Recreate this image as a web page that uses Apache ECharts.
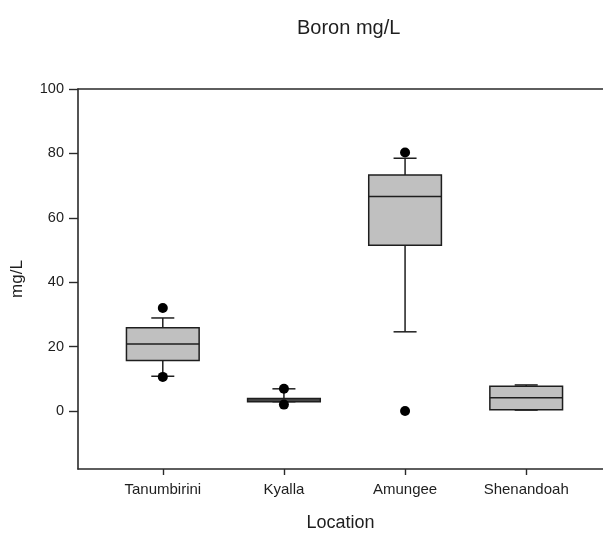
<!DOCTYPE html>
<html>
<head>
<meta charset="utf-8">
<title>Boron mg/L</title>
<script src="https://cdn.jsdelivr.net/npm/echarts@6/dist/echarts.min.js"></script>
<style>
  html, body { margin: 0; padding: 0; background: #ffffff; }
  #chart { width: 603px; height: 537px; }
</style>
</head>
<body>
<div id="chart"></div>
<script>
// Sampling locations (placed at x = 1..4)
const locations = ['Tanumbirini', 'Kyalla', 'Amungee', 'Shenandoah'];

// Box statistics per location: [lower whisker, Q1, median, Q3, upper whisker]
const boxStats = [
  [10.8, 15.7, 20.8, 25.9, 28.9],
  [2.9, 2.9, 3.4, 3.9, 6.9],
  [24.6, 51.5, 66.6, 73.3, 78.5],
  [0.3, 0.4, 4.1, 7.7, 8.1]
];

// Outlying observations: [location index, value]
const outliers = [
  [0, 32.0], [0, 10.6],
  [1, 6.9], [1, 2.0],
  [2, 80.3], [2, 0.0]
];

const yTicks = [0, 20, 40, 60, 80, 100];

const FONT = '"Liberation Sans", Arial, sans-serif';
const INK = '#1e1e1e';

const boxData = boxStats.map((s, i) => [i + 1].concat(s));
const outlierData = outliers.map(o => [o[0] + 1, o[1]]);

function renderBox(params, api) {
  const x = api.value(0);
  const low = api.coord([x, api.value(1)]);
  const q1 = api.coord([x, api.value(2)]);
  const med = api.coord([x, api.value(3)]);
  const q3 = api.coord([x, api.value(4)]);
  const high = api.coord([x, api.value(5)]);
  const boxW = api.size([0.6, 0])[0];
  const capW = api.size([0.19, 0])[0];
  const cx = low[0];
  const stroke = { stroke: INK, lineWidth: 1.5 };
  return {
    type: 'group',
    children: [
      { type: 'line', shape: { x1: cx, y1: q3[1], x2: cx, y2: high[1] }, style: stroke },
      { type: 'line', shape: { x1: cx, y1: q1[1], x2: cx, y2: low[1] }, style: stroke },
      { type: 'line', shape: { x1: cx - capW / 2, y1: high[1], x2: cx + capW / 2, y2: high[1] }, style: stroke },
      { type: 'line', shape: { x1: cx - capW / 2, y1: low[1], x2: cx + capW / 2, y2: low[1] }, style: stroke },
      { type: 'rect', shape: { x: cx - boxW / 2, y: q3[1], width: boxW, height: q1[1] - q3[1] },
        style: { fill: '#c0c0c0', stroke: INK, lineWidth: 1.5 } },
      { type: 'line', shape: { x1: cx - boxW / 2, y1: med[1], x2: cx + boxW / 2, y2: med[1] }, style: stroke }
    ]
  };
}

const chart = echarts.init(document.getElementById('chart'), null, { renderer: 'canvas' });

const xMin = 0.3, xMax = 4.634;

chart.setOption({
  animation: false,
  backgroundColor: '#ffffff',
  title: {
    text: 'Boron mg/L',
    left: 292,
    top: 13,
    textStyle: { fontFamily: FONT, fontSize: 20, fontWeight: 'normal', color: INK }
  },
  grid: { left: 78, right: 0, top: 89, bottom: 63, containLabel: false },
  xAxis: [
    {
      type: 'value',
      min: xMin,
      max: xMax,
      position: 'bottom',
      name: 'Location',
      nameLocation: 'middle',
      nameGap: 45,
      nameTextStyle: { fontFamily: FONT, fontSize: 18, color: INK },
      axisLine: { show: true, onZero: false, lineStyle: { color: '#2a2a2a', width: 1.6 } },
      axisTick: { show: true, length: 6, customValues: [1, 2, 3, 4], lineStyle: { color: '#2a2a2a', width: 1.4 } },
      axisLabel: {
        customValues: [1, 2, 3, 4],
        formatter: v => locations[Math.round(v) - 1] || '',
        margin: 13,
        fontFamily: FONT, fontSize: 15, color: INK
      },
      splitLine: { show: false }
    },
    {
      type: 'value',
      min: xMin,
      max: xMax,
      position: 'top',
      axisLine: { show: true, onZero: false, lineStyle: { color: '#2a2a2a', width: 1.6 } },
      axisTick: { show: false },
      axisLabel: { show: false },
      splitLine: { show: false }
    }
  ],
  yAxis: {
    type: 'value',
    min: -18,
    max: 100,
    name: 'mg/L',
    nameLocation: 'middle',
    nameRotate: 90,
    nameGap: 52,
    nameTextStyle: { fontFamily: FONT, fontSize: 17, color: INK },
    axisLine: { show: true, onZero: false, lineStyle: { color: '#2a2a2a', width: 1.6 } },
    axisTick: { show: true, length: 9, customValues: yTicks, lineStyle: { color: '#2a2a2a', width: 1.4 } },
    axisLabel: { customValues: yTicks, margin: 14, fontFamily: FONT, fontSize: 14.5, color: INK },
    splitLine: { show: false }
  },
  series: [
    {
      type: 'custom',
      xAxisIndex: 0,
      renderItem: renderBox,
      encode: { x: 0, y: [1, 2, 3, 4, 5] },
      data: boxData,
      z: 2
    },
    {
      type: 'scatter',
      xAxisIndex: 0,
      symbol: 'circle',
      symbolSize: 10,
      itemStyle: { color: '#000000', opacity: 1 },
      data: outlierData,
      z: 3
    }
  ]
});
</script>
</body>
</html>
